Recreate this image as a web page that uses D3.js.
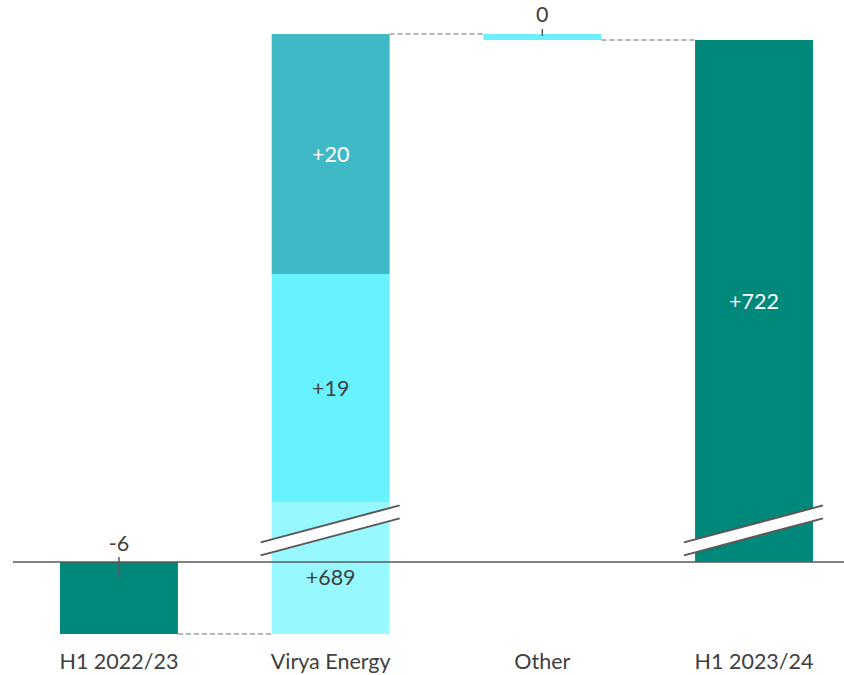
<!DOCTYPE html>
<html><head><meta charset="utf-8">
<script src="https://cdn.jsdelivr.net/npm/d3@7"></script>
<style>body{margin:0;background:#fff}svg{display:block}text{font-family:Lato,"Open Sans",sans-serif}</style>
</head><body><svg id="c" width="844" height="675"></svg>
<script>
// Data
const categories = ["H1 2022/23", "Virya Energy", "Other", "H1 2023/24"];
const segStart = [0, -6, 683, 702, 722, 0];
const segEnd   = [-6, 683, 702, 722, 721.5, 721.5];
const segCat   = ["H1 2022/23", "Virya Energy", "Virya Energy", "Virya Energy", "Other", "H1 2023/24"];
const segLabel = ["-6", "+689", "+19", "+20", "0", "+722"];
const segColor = ["#00887a", "#97f9ff", "#68f2ff", "#40b9c7", "#6eefff", "#00887a"];
const segText  = ["#404040", "#404040", "#404040", "#ffffff", "#404040", "#ffffff"];

const svg = d3.select("#c");
const unit = 12;
const yBase = 562, yBreakTop = 502;
const y = d3.scaleLinear()
  .domain([-6, 0, 683, 722])
  .range([yBase + 6 * unit, yBase, yBreakTop, yBreakTop - (722 - 683) * unit]);

const x = d3.scaleBand().domain(categories).range([60, 813]).paddingInner(0.443).paddingOuter(0);
const bw = x.bandwidth();

segStart.forEach((s, i) => {
  const e = segEnd[i];
  const y0 = y(Math.max(s, e)), y1 = y(Math.min(s, e));
  svg.append("rect").attr("x", x(segCat[i])).attr("width", bw)
    .attr("y", y0).attr("height", Math.max(y1 - y0, 1)).attr("fill", segColor[i]);
});

const conn = [[0, 1, -6], [1, 2, 722], [2, 3, 721.5]];
conn.forEach(([a, b, v]) => {
  svg.append("line").attr("x1", x(categories[a]) + bw).attr("x2", x(categories[b]))
    .attr("y1", y(v)).attr("y2", y(v))
    .attr("stroke", "#6f6f6f").attr("stroke-width", 1.2).attr("stroke-dasharray", "5,3");
});

svg.append("line").attr("x1", 13).attr("x2", 844).attr("y1", y(0)).attr("y2", y(0))
  .attr("stroke", "#595959").attr("stroke-width", 1.6);

const breakVal = 360;
["Virya Energy", "H1 2023/24"].forEach(c => {
  const cx = x(c) + bw / 2, cy = y(breakVal);
  const xl = cx - 70, xr = cx + 69, dy = 18.5, gap = 13;
  svg.append("polygon")
    .attr("points", [[xl, cy + dy - gap / 2], [xr, cy - dy - gap / 2], [xr, cy - dy + gap / 2], [xl, cy + dy + gap / 2]].join(" "))
    .attr("fill", "#fff");
  [-gap / 2, gap / 2].forEach(o => {
    svg.append("line").attr("x1", xl).attr("y1", cy + dy + o).attr("x2", xr).attr("y2", cy - dy + o)
      .attr("stroke", "#595959").attr("stroke-width", 2);
  });
});

const fs = 21.5;
segStart.forEach((s, i) => {
  const e = segEnd[i];
  const cx = x(segCat[i]) + bw / 2;
  let ty;
  if (i === 0) ty = y(0) - 11;
  else if (i === 4) ty = y(722) - 12;
  else {
    const lo = Math.min(s, e) < 0 ? 0 : Math.min(s, e);
    ty = (y(lo) + y(Math.max(s, e))) / 2 + 8;
    if (i === 1) ty = y(0) + 23;
  }
  svg.append("text").attr("x", cx).attr("y", ty).attr("text-anchor", "middle")
    .attr("font-size", fs).attr("fill", segText[i]).text(segLabel[i]);
});

svg.append("line").attr("x1", x("H1 2022/23") + bw / 2).attr("x2", x("H1 2022/23") + bw / 2)
  .attr("y1", y(0) - 5).attr("y2", y(0) + 16).attr("stroke", "#595959").attr("stroke-width", 1.5);
svg.append("line").attr("x1", x("Other") + bw / 2).attr("x2", x("Other") + bw / 2)
  .attr("y1", y(722) - 5).attr("y2", y(722) + 2).attr("stroke", "#595959").attr("stroke-width", 1.5);

categories.forEach(c => {
  svg.append("text").attr("x", x(c) + bw / 2).attr("y", 669).attr("text-anchor", "middle")
    .attr("font-size", fs).attr("fill", "#404040").text(c);
});
</script></body></html>
